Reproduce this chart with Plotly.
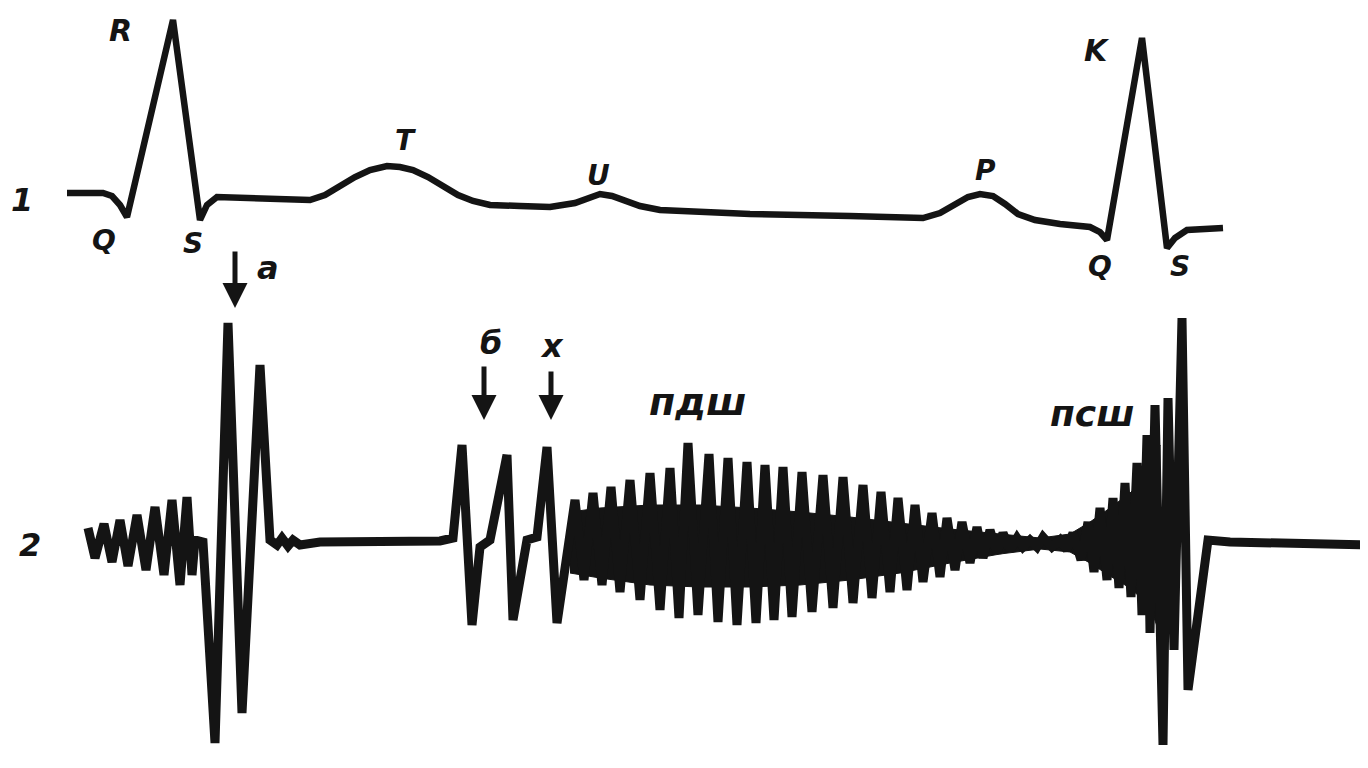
import plotly.graph_objects as go

# ---- Trace 1: ECG (time in px-like units, amplitude; y grows downward)
ECG_T = [67, 103, 112, 120, 127, 173, 200, 207, 217, 260, 310, 325, 340, 355, 370, 387, 400, 413,
         428, 443, 458, 473, 490, 520, 550, 575, 590, 600, 612, 625, 640, 660, 750, 850, 900,
         923, 940, 955, 968, 980, 993, 1005, 1018, 1035, 1060, 1090, 1100, 1107, 1142, 1167,
         1175, 1187, 1223]
ECG_V = [193, 193, 196, 205, 217, 20, 220, 205, 197, 198, 200, 195, 186, 177, 170, 166, 167, 170,
         177, 186, 195, 201, 205, 206, 207, 203, 197, 194, 196, 201, 206, 210, 214, 216, 217,
         218, 213, 204, 197, 194, 196, 204, 214, 220, 224, 227, 232, 240, 38, 248,
         238, 230, 228]

# ---- Trace 2: phonocardiogram vertices
PCG_T = [88, 95, 104, 112, 120, 128, 137, 146, 155, 164, 172, 180, 187, 192, 195, 203,
         215, 228, 242, 260, 270, 277, 282, 288, 293, 300, 320, 380, 440, 453,
         462, 472, 480, 490, 507, 513, 527, 537, 547, 557,
         575, 584, 593, 602, 611, 620, 630, 640, 650, 660, 670, 679, 688, 698, 709, 718,
         728, 737, 747, 756, 765, 774, 783, 792, 802, 812, 823, 833, 843, 853, 863, 872,
         881, 890, 898, 907, 915, 923, 932, 940, 947, 955, 962, 970, 977, 983, 990, 997,
         1003, 1010, 1017, 1023, 1030, 1037, 1043, 1052, 1060, 1067, 1073, 1081, 1088, 1094,
         1100, 1107, 1113, 1119, 1125, 1131, 1137, 1142, 1147, 1150, 1155, 1163, 1168, 1174,
         1182, 1188, 1208, 1230, 1300, 1368]
PCG_V = [528, 558, 524, 562, 520, 566, 515, 570, 507, 575, 500, 585, 497, 575, 540, 542,
         743, 323, 713, 365, 540, 545, 538, 546, 540, 545, 542, 541, 541, 538,
         445, 625, 547, 540, 455, 620, 540, 537, 447, 623,
         500, 580, 493, 585, 487, 592, 480, 600, 473, 610, 468, 618, 443, 615, 454, 622,
         458, 625, 462, 623, 465, 620, 467, 617, 472, 612, 475, 608, 477, 603, 485, 598,
         492, 592, 498, 590, 505, 582, 513, 577, 518, 570, 522, 563, 527, 558, 530, 553,
         533, 550, 538, 547, 540, 547, 537, 547, 540, 550, 533, 560, 522, 572,
         508, 580, 498, 588, 483, 597, 463, 615, 435, 633, 405, 745, 398, 650,
         318, 690, 540, 542, 543, 545]

# dense core of the murmurs (envelope of the solid band)
CORE_T = [570, 600, 650, 700, 750, 800, 850, 900, 950, 1000, 1040, 1070, 1090, 1110, 1130, 1150, 1160]
CORE_TOP = [512, 508, 505, 505, 508, 512, 517, 523, 529, 534, 538, 534, 522, 508, 493, 473, 445]
CORE_BOT = [573, 578, 585, 587, 587, 585, 580, 573, 563, 554, 549, 552, 563, 576, 588, 606, 635]

INK = "#141414"
# page body adds an 8 px margin, so the plotting window is offset accordingly
OFF = 8
W, H = 1368, 768

fig = go.Figure()
fig.add_trace(go.Scatter(x=ECG_T, y=ECG_V, mode="lines",
                         line=dict(color=INK, width=6.5), hoverinfo="skip"))
fig.add_trace(go.Scatter(x=CORE_T + CORE_T[::-1], y=CORE_TOP + CORE_BOT[::-1], mode="lines",
                         fill="toself", fillcolor=INK, line=dict(color=INK, width=1),
                         hoverinfo="skip"))
fig.add_trace(go.Scatter(x=PCG_T, y=PCG_V, mode="lines",
                         line=dict(color=INK, width=9), hoverinfo="skip"))

font = dict(family="DejaVu Sans", color=INK, weight="bold", style="italic")
labels = [
    ("1", 22, 200, 32), ("2", 30, 545, 32),
    ("R", 120, 30, 30), ("Q", 104, 240, 28), ("S", 193, 243, 28),
    ("T", 405, 140, 28), ("U", 598, 175, 28), ("P", 985, 170, 28),
    ("K", 1097, 50, 30), ("Q", 1100, 266, 28), ("S", 1180, 266, 28),
    ("а", 268, 268, 32), ("б", 491, 343, 32), ("х", 552, 346, 32),
    ("пдш", 697, 402, 38), ("псш", 1092, 413, 36),
]
anns = []
for txt, x, y, s in labels:
    anns.append(dict(x=x, y=y, text=txt, showarrow=False, xref="x", yref="y",
                     font=dict(size=s, **font)))
for x, y0, y1 in [(235, 250, 308), (484, 365, 420), (551, 370, 420)]:
    anns.append(dict(x=x, y=y1, ax=x, ay=y0, axref="x", ayref="y", xref="x", yref="y",
                     text="", showarrow=True, arrowhead=2, arrowsize=1, arrowwidth=5,
                     arrowcolor=INK))

fig.update_layout(
    width=W - OFF, height=H - OFF, margin=dict(l=0, r=0, t=0, b=0),
    paper_bgcolor="white", plot_bgcolor="white", showlegend=False,
    xaxis=dict(range=[OFF, W], visible=False, fixedrange=True),
    yaxis=dict(range=[H, OFF], visible=False, fixedrange=True),
    annotations=anns,
)
fig.write_html("out.html")
